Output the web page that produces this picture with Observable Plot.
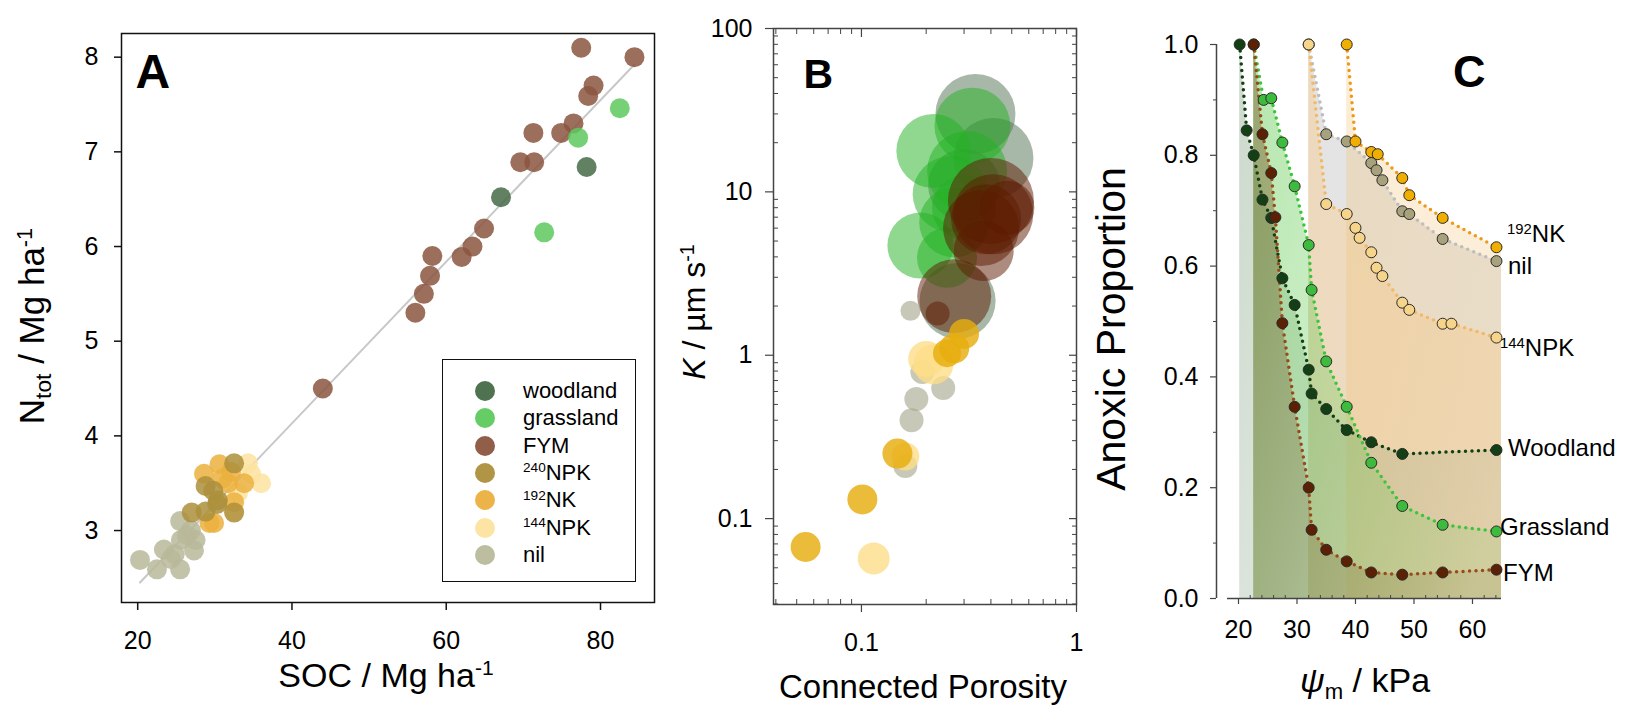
<!DOCTYPE html>
<html><head><meta charset="utf-8">
<script src="https://cdn.jsdelivr.net/npm/d3@7"></script>
<script src="https://cdn.jsdelivr.net/npm/@observablehq/plot@0.6"></script>
<style>
body{margin:0;background:#fff;font-family:"Liberation Sans",Arial,sans-serif;}
#root{position:relative;width:1628px;height:709px;overflow:hidden;background:#fff;}
.pl{position:absolute;top:0;}
.t{position:absolute;white-space:nowrap;line-height:1;color:#000;}
.sup{position:relative;top:-0.55em;font-size:0.62em;}
.sub{position:relative;top:0.32em;font-size:0.65em;}
</style></head><body><div id="root"></div>
<script>
const FONT = '"Liberation Sans", Arial, sans-serif';

// ---------------- Panel A data (SOC vs Ntot) ----------------
const groupsA = ["woodland", "grassland", "FYM", "240NPK", "192NK", "144NPK", "nil"];
const aWoodSOC = [67.1, 78.2];
const aWoodN = [6.52, 6.84];
const aGrassSOC = [82.5, 77.1, 72.7];
const aGrassN = [7.46, 7.15, 6.15];
const aFymSOC = [77.5, 84.4, 79.1, 78.4, 76.5, 74.9, 71.3, 69.6, 71.4, 64.9, 63.4, 62.0, 58.2, 57.9, 57.1, 56.0, 44.0];
const aFymN = [8.10, 8.00, 7.70, 7.59, 7.30, 7.20, 7.20, 6.89, 6.89, 6.19, 6.00, 5.89, 5.90, 5.69, 5.50, 5.30, 4.50];
const aNpk240SOC = [27.0, 28.8, 30.4, 32.5, 32.5, 28.8, 29.8, 30.3];
const aNpk240N = [3.19, 3.47, 3.32, 3.71, 3.19, 3.20, 3.42, 3.28];
const aNk192SOC = [28.6, 30.6, 29.9, 29.3, 33.8, 31.7, 32.5, 32.1, 31.0];
const aNk192N = [3.60, 3.70, 3.08, 3.08, 3.50, 3.50, 3.30, 3.62, 3.55];
const aNpk144SOC = [34.3, 36.0, 34.7, 32.5, 33.0];
const aNpk144N = [3.71, 3.50, 3.60, 3.20, 3.40];
const aNilSOC = [20.3, 22.5, 23.4, 25.5, 24.3, 25.5, 25.6, 27.3, 27.5, 26.9, 26.4, 24.8];
const aNilN = [2.69, 2.59, 2.80, 2.59, 2.70, 3.10, 2.90, 2.79, 2.90, 3.00, 2.95, 2.75];
const ticksAx = [20, 40, 60, 80];
const ticksAy = [3, 4, 5, 6, 7, 8];

// ---------------- Panel B data (connected porosity vs K, bubble index) ----------------
const bWoodPor = [0.339, 0.411, 0.28, 0.30];
const bWoodK = [30, 16.1, 2.15, 11];
const bWoodS = [4.0, 4.0, 3.8, 3.6];
const bGrassPor = [0.328, 0.216, 0.31, 0.26, 0.188, 0.25, 0.27, 0.30];
const bGrassK = [25.4, 17.8, 13.4, 9.7, 4.7, 3.95, 6.5, 8.0];
const bGrassS = [3.8, 3.7, 4.0, 3.8, 3.3, 3.0, 3.5, 3.2];
const bFymPor = [0.40, 0.41, 0.477, 0.37, 0.27, 0.226, 0.36, 0.38];
const bFymK = [8.8, 7.3, 8.0, 4.35, 2.3, 1.8, 6.0, 6.8];
const bFymS = [4.3, 4.0, 2.7, 3.0, 3.7, 1.2, 3.8, 3.5];
const bNilPor = [0.169, 0.192, 0.24, 0.18, 0.171, 0.16];
const bNilK = [1.87, 0.79, 0.63, 0.54, 0.40, 0.21];
const bNilS = [1.0, 1.2, 1.2, 1.2, 1.2, 1.2];
const bNk192Por = [0.30, 0.27, 0.25, 0.147, 0.101, 0.055];
const bNk192K = [1.35, 1.1, 1.03, 0.25, 0.131, 0.067];
const bNk192S = [1.5, 1.5, 1.4, 1.5, 1.5, 1.5];
const bNpk144Por = [0.216, 0.20, 0.16, 0.114];
const bNpk144K = [0.88, 0.95, 0.24, 0.057];
const bNpk144S = [2.0, 1.8, 1.4, 1.6];
const ticksBx = [0.1, 1];
const minorBx = [0.04, 0.05, 0.06, 0.07, 0.08, 0.09, 0.2, 0.3, 0.4, 0.5, 0.6, 0.7, 0.8, 0.9];
const ticksBy = [0.1, 1, 10, 100];
const minorBy = [0.03, 0.04, 0.05, 0.06, 0.07, 0.08, 0.09, 0.2, 0.3, 0.4, 0.5, 0.6, 0.7, 0.8, 0.9, 2, 3, 4, 5, 6, 7, 8, 9, 20, 30, 40, 50, 60, 70, 80, 90];

// ---------------- Panel C data (matric potential vs anoxic proportion) ----------------
const cWoodPsi = [20.2, 21.4, 22.6, 24.1, 25.6, 27.5, 29.6, 32.0, 32.5, 35.0, 38.5, 42.7, 48.0, 64.1];
const cWoodAnox = [1.0, 0.845, 0.80, 0.72, 0.687, 0.578, 0.53, 0.413, 0.37, 0.342, 0.304, 0.282, 0.261, 0.268];
const cFymPsi = [22.6, 24.1, 25.6, 26.3, 27.5, 29.6, 32.0, 32.5, 35.0, 38.5, 42.7, 48.0, 54.9, 64.1];
const cFymAnox = [1.0, 0.838, 0.768, 0.688, 0.497, 0.346, 0.20, 0.124, 0.088, 0.067, 0.047, 0.043, 0.047, 0.052];
const cGrassPsi = [22.6, 24.3, 25.6, 27.5, 29.6, 32.0, 32.5, 35.0, 38.5, 42.7, 48.0, 54.9, 64.1];
const cGrassAnox = [1.0, 0.90, 0.903, 0.823, 0.744, 0.638, 0.557, 0.428, 0.346, 0.245, 0.167, 0.133, 0.121];
const cNilPsi = [32.0, 35.0, 38.5, 42.7, 43.6, 44.6, 48.0, 49.2, 54.9, 64.1];
const cNilAnox = [1.0, 0.838, 0.825, 0.786, 0.773, 0.755, 0.699, 0.694, 0.649, 0.609];
const cNk192Psi = [38.5, 40.0, 42.7, 43.8, 48.0, 49.2, 54.9, 64.1];
const cNk192Anox = [1.0, 0.825, 0.806, 0.802, 0.759, 0.728, 0.687, 0.634];
const cNpk144Psi = [32.0, 35.0, 38.5, 40.0, 40.7, 42.7, 43.6, 44.6, 48.0, 49.2, 54.9, 56.4, 64.1];
const cNpk144Anox = [1.0, 0.712, 0.694, 0.669, 0.651, 0.625, 0.597, 0.582, 0.534, 0.521, 0.496, 0.496, 0.471];
const ticksCx = [20, 30, 40, 50, 60];
const minorCx = [22, 24, 26, 28, 32, 34, 36, 38, 42, 44, 46, 48, 52, 54, 56, 58, 62, 64];
const ticksCy = [0, 0.2, 0.4, 0.6, 0.8, 1.0];
const minorCy = [0.1, 0.3, 0.5, 0.7, 0.9];

// ---------------- helpers ----------------
function rows(g, xs, ys, ss) { return xs.map((x, i) => ({g, x, y: ys[i], s: ss ? ss[i] : 1})); }
const root = document.getElementById("root");
function place(svg, left) {
  const d = document.createElement("div");
  d.className = "pl"; d.style.left = left + "px";
  d.appendChild(svg); root.appendChild(d);
}
function label(html, cx, cy, fs, rot, anchor) {
  const d = document.createElement("div");
  d.className = "t";
  d.innerHTML = html;
  d.style.left = cx + "px"; d.style.top = cy + "px"; d.style.fontSize = fs + "px";
  const tx = anchor === "start" ? "0" : "-50%";
  d.style.transform = `translate(${tx},-50%)` + (rot ? ` rotate(${rot}deg)` : "");
  root.appendChild(d);
  return d;
}
const baseStyle = {fontFamily: FONT, fontSize: "25px", color: "#000", background: "transparent", overflow: "visible"};

// ---------------- Panel A ----------------
const dataA = [
  ...rows("nil", aNilSOC, aNilN),
  ...rows("144NPK", aNpk144SOC, aNpk144N),
  ...rows("192NK", aNk192SOC, aNk192N),
  ...rows("240NPK", aNpk240SOC, aNpk240N),
  ...rows("FYM", aFymSOC, aFymN),
  ...rows("grassland", aGrassSOC, aGrassN),
  ...rows("woodland", aWoodSOC, aWoodN)
];
const colorsA = ["#466b48", "#5ec95e", "#8b5540", "#ad8f3c", "#ebb03e", "#fde3a0", "#b9b99a"];
const plotA = Plot.plot({
  width: 680, height: 709, marginLeft: 121, marginRight: 26, marginTop: 33, marginBottom: 107,
  style: baseStyle,
  x: {domain: [17.9, 87.0]}, y: {domain: [2.24, 8.25]},
  color: {domain: groupsA, range: colorsA},
  marks: [
    Plot.linearRegressionY(dataA, {x: "x", y: "y", stroke: "#c8c8c8", strokeWidth: 2, ci: 0}),
    Plot.dot(dataA, {x: "x", y: "y", r: 10, fill: "g", fillOpacity: 0.85}),
    Plot.frame({stroke: "#111", strokeWidth: 1.5}),
    Plot.axisX(ticksAx, {tickSize: 8, tickPadding: 21, tickFormat: d => String(d), strokeWidth: 1.5, label: null, stroke: "#111"}),
    Plot.axisY(ticksAy, {tickSize: 7, tickPadding: 16, tickFormat: d => String(d), strokeWidth: 1.5, label: null, stroke: "#111"}),
    Plot.text(["A"], {text: d => d, frameAnchor: "top-left", textAnchor: "start", lineAnchor: "top", dx: 14, dy: 20, fontSize: 48, fontWeight: "bold"})
  ]
});
place(plotA, 0);

// legend A
(function () {
  const box = document.createElement("div");
  box.style.cssText = "position:absolute;left:442px;top:359px;width:192px;height:221px;border:1.5px solid #111;background:#fff;";
  root.appendChild(box);
  const names = ["woodland", "grassland", "FYM", '<span class="sup">240</span>NPK', '<span class="sup">192</span>NK', '<span class="sup">144</span>NPK', "nil"];
  names.forEach((n, i) => {
    const cy = 391 + 27.3 * i;
    const c = document.createElement("div");
    c.style.cssText = `position:absolute;left:475px;top:${cy - 10}px;width:20px;height:20px;border-radius:50%;background:${colorsA[i]};opacity:0.95;`;
    root.appendChild(c);
    label(n, 523, cy, 22, 0, "start");
  });
})();

// ---------------- Panel B ----------------
const dataB = [
  ...rows("woodland", bWoodPor, bWoodK, bWoodS),
  ...rows("grassland", bGrassPor, bGrassK, bGrassS),
  ...rows("FYM", bFymPor, bFymK, bFymS),
  ...rows("nil", bNilPor, bNilK, bNilS),
  ...rows("144NPK", bNpk144Por, bNpk144K, bNpk144S),
  ...rows("192NK", bNk192Por, bNk192K, bNk192S)
];
const orderB = ["woodland", "grassland", "FYM", "nil", "144NPK", "192NK"];
const colB = {woodland: "#517151", grassland: "#21b121", FYM: "#5c1a00", nil: "#a3a389", "144NPK": "#fcdd88", "192NK": "#e7ad0e"};
const opB = {woodland: 0.5, grassland: 0.5, FYM: 0.5, nil: 0.6, "144NPK": 0.8, "192NK": 0.82};
const axB = "#444";
const plotB = Plot.plot({
  width: 400, height: 709, marginLeft: 83, marginRight: 14, marginTop: 28, marginBottom: 105,
  style: baseStyle,
  x: {type: "log", domain: [0.039, 1]},
  y: {type: "log", domain: [0.0298, 100]},
  r: {type: "linear", domain: [0, 4.5], range: [0, 45]},
  marks: [
    ...orderB.map(g => Plot.dot(dataB.filter(d => d.g === g), {x: "x", y: "y", r: "s", fill: colB[g], fillOpacity: opB[g]})),
    Plot.frame({stroke: axB, strokeWidth: 1.5}),
    Plot.axisY(ticksBy, {anchor: "left", tickSize: 8, tickPadding: 13, tickFormat: d => String(d), label: null, stroke: axB, strokeWidth: 1.2}),
    Plot.axisY(minorBy, {anchor: "left", tickSize: -5, fill: "none", label: null, stroke: axB}),
    Plot.axisY(ticksBy, {anchor: "right", tickSize: -8, fill: "none", label: null, stroke: axB, strokeWidth: 1.2}),
    Plot.axisY(minorBy, {anchor: "right", tickSize: -5, fill: "none", label: null, stroke: axB}),
    Plot.axisX(ticksBx, {anchor: "bottom", tickSize: 8, tickPadding: 21, tickFormat: d => String(d), label: null, stroke: axB, strokeWidth: 1.2}),
    Plot.axisX(minorBx, {anchor: "bottom", tickSize: -5, fill: "none", label: null, stroke: axB}),
    Plot.axisX(ticksBx, {anchor: "top", tickSize: -8, fill: "none", label: null, stroke: axB, strokeWidth: 1.2}),
    Plot.axisX(minorBx, {anchor: "top", tickSize: -5, fill: "none", label: null, stroke: axB}),
    Plot.text(["B"], {text: d => d, frameAnchor: "top-left", textAnchor: "start", lineAnchor: "top", dx: 30, dy: 30, fontSize: 41, fontWeight: "bold"})
  ]
});
place(plotB, 690);

// ---------------- Panel C ----------------
// orange family drawn first, green family on top with fading gradients
const seriesC = [
  {name: "nil", xs: cNilPsi, ys: cNilAnox, dot: "#a8a27c", line: "#bdbdbd", area: "#b0b0b0", a0: 0.35, a1: 0.3},
  {name: "144NPK", xs: cNpk144Psi, ys: cNpk144Anox, dot: "#f6d48a", line: "#f2b866", area: "#fcc97f", a0: 0.38, a1: 0.3},
  {name: "192NK", xs: cNk192Psi, ys: cNk192Anox, dot: "#f0ae00", line: "#ec9a18", area: "#f2c070", a0: 0.3, a1: 0.25},
  {name: "Woodland", xs: cWoodPsi, ys: cWoodAnox, dot: "#123f14", line: "#123f14", area: "#5f875f", a0: 0.3, a1: 0.1},
  {name: "Grassland", xs: cGrassPsi, ys: cGrassAnox, dot: "#3dbb3d", line: "#3dc43d", area: "#59c847", a0: 0.42, a1: 0.12},
  {name: "FYM", xs: cFymPsi, ys: cFymAnox, dot: "#5b2104", line: "#9a4a1a", area: "#7a622e", a0: 0.48, a1: 0.1}
];
const xDomC = [16.24, 64.96];
seriesC.forEach((s, i) => { s.data = rows(s.name, s.xs, s.ys); s.gid = "gradC" + i; });
const axC = "#444";
const plotC = Plot.plot({
  width: 528, height: 709, marginLeft: 116, marginRight: 127, marginTop: 44, marginBottom: 111,
  style: baseStyle,
  x: {domain: xDomC}, y: {domain: [0, 1]},
  marks: [
    ...seriesC.map(s => Plot.areaY(s.data.concat([{x: xDomC[1], y: s.data[s.data.length - 1].y}]), {x: "x", y: "y", fill: `url(#${s.gid})`})),
    ...seriesC.map(s => Plot.line(s.data, {x: "x", y: "y", stroke: s.line, strokeWidth: 3.5, strokeDasharray: "0 6.5", strokeLinecap: "round"})),
    ...seriesC.map(s => Plot.dot(s.data, {x: "x", y: "y", r: 5.5, fill: s.dot, stroke: "#2a2a2a", strokeWidth: 1})),
    Plot.ruleX([xDomC[0]], {stroke: axC, strokeWidth: 1.5}),
    Plot.ruleY([0], {insetLeft: 11, stroke: axC, strokeWidth: 1.5}),
    Plot.axisY(ticksCy, {tickSize: 6, tickPadding: 12, tickFormat: d3.format(".1f"), label: null, stroke: axC, strokeWidth: 1.2}),
    Plot.axisY(minorCy, {tickSize: 3, fill: "none", label: null, stroke: axC}),
    Plot.axisX(ticksCx, {tickSize: 6, tickPadding: 16, tickFormat: d => String(d), label: null, stroke: axC, strokeWidth: 1.2}),
    Plot.axisX(minorCx, {tickSize: -3, fill: "none", label: null, stroke: axC}),
    Plot.text(["C"], {text: d => d, frameAnchor: "top-right", textAnchor: "end", lineAnchor: "top", dx: -16, dy: 11, fontSize: 45, fontWeight: "bold"})
  ]
});
// gradient definitions for the shaded areas
(function () {
  const ns = "http://www.w3.org/2000/svg";
  const defs = document.createElementNS(ns, "defs");
  seriesC.forEach(s => {
    const g = document.createElementNS(ns, "linearGradient");
    g.setAttribute("id", s.gid);
    g.setAttribute("x1", "0"); g.setAttribute("y1", "0.2"); g.setAttribute("x2", "1"); g.setAttribute("y2", "0.8");
    [[0, s.a0], [1, s.a1]].forEach(([o, a]) => {
      const st = document.createElementNS(ns, "stop");
      st.setAttribute("offset", o);
      st.setAttribute("stop-color", s.area);
      st.setAttribute("stop-opacity", a);
      g.appendChild(st);
    });
    defs.appendChild(g);
  });
  plotC.insertBefore(defs, plotC.firstChild);
})();
place(plotC, 1100);

// series labels in C, placed with the plot's own scales
(function () {
  const sx = plotC.scale("x"), sy = plotC.scale("y");
  const lab = {
    "192NK": ['<span class="sup">192</span>NK', 11, -13],
    "nil": ["nil", 12, 5],
    "144NPK": ['<span class="sup">144</span>NPK', 4, 11],
    "Woodland": ["Woodland", 12, -2],
    "Grassland": ["Grassland", 4, -4],
    "FYM": ["FYM", 7, 4]
  };
  seriesC.forEach(s => {
    const last = s.data[s.data.length - 1];
    const [html, ox, oy] = lab[s.name];
    label(html, 1100 + sx.apply(last.x) + ox, sy.apply(last.y) + oy, 24, 0, "start");
  });
})();

// axis titles
label('N<span class="sub">tot</span> / Mg ha<span class="sup">-1</span>', 31, 326, 35, -90);
label('SOC / Mg ha<span class="sup">-1</span>', 386, 675, 34, 0);
label('<i>K</i> / µm s<span class="sup">-1</span>', 694, 312, 32, -90);
label('Connected Porosity', 923, 686, 33, 0);
label('Anoxic Proportion', 1111, 329, 41, -90);
label('<i>ψ</i><span class="sub">m</span> / kPa', 1365, 680, 34, 0);
</script></body></html>
